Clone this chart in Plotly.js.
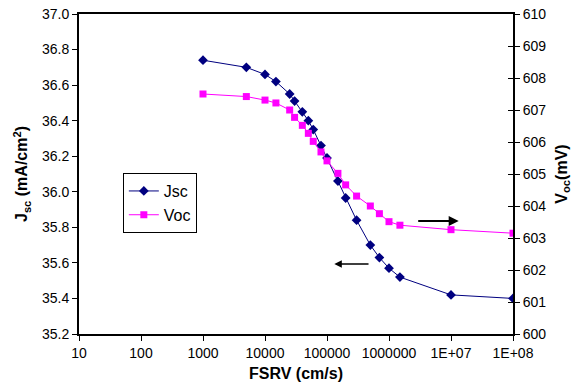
<!DOCTYPE html>
<html>
<head>
<meta charset="utf-8">
<script src="https://cdn.plot.ly/plotly-3.0.1.min.js"></script>
<style>html,body{margin:0;padding:0;background:#fff;}#chart{width:578px;height:390px;}</style>
</head>
<body>
<div id="chart"></div>
<script>
const fsrv = [1000, 5000, 10000, 15000, 25000, 30000, 40000, 50000, 60000, 80000,
              100000, 150000, 200000, 300000, 500000, 700000, 1000000, 1500000, 10000000, 100000000];
const jsc = [36.74, 36.70, 36.66, 36.62, 36.55, 36.51, 36.45, 36.40, 36.35, 36.26,
             36.19, 36.06, 35.965, 35.84, 35.70, 35.63, 35.57, 35.52, 35.42, 35.40];
const voc = [607.50, 607.42, 607.31, 607.22, 607.00, 606.77, 606.52, 606.27, 606.02, 605.69,
             605.41, 605.02, 604.66, 604.31, 604.00, 603.76, 603.51, 603.40, 603.26, 603.15];
const xTickVals = [10, 100, 1000, 10000, 100000, 1000000, 10000000, 100000000];
const xTickText = ['10', '100', '1000', '10000', '100000', '1000000', '1E+07', '1E+08'];

const font = 'Arial, "Liberation Sans", sans-serif';

const traces = [
  {x: fsrv, y: jsc, name: 'Jsc', type: 'scatter', mode: 'lines+markers', yaxis: 'y',
   line: {color: '#000080', width: 1}, marker: {symbol: 'diamond', size: 7.5, color: '#000080'}},
  {x: fsrv, y: voc, name: 'Voc', type: 'scatter', mode: 'lines+markers', yaxis: 'y2',
   line: {color: '#FF00FF', width: 1}, marker: {symbol: 'square', size: 7, color: '#FF00FF'}}
];

const layout = {
  width: 578, height: 390,
  margin: {l: 79, r: 65, t: 14, b: 56},
  paper_bgcolor: '#fff', plot_bgcolor: '#fff',
  font: {family: font, size: 14, color: '#000'},
  showlegend: true,
  legend: {x: 0.101, y: 0.503, xanchor: 'left', yanchor: 'top', bgcolor: '#fff',
           bordercolor: '#000', borderwidth: 1, font: {size: 16, family: font}},
  xaxis: {type: 'log', range: [1, 8], tickvals: xTickVals, ticktext: xTickText,
          showline: true, linecolor: '#000', linewidth: 2, mirror: true,
          ticks: 'outside', ticklen: 5, tickcolor: '#000', showgrid: false, zeroline: false,
          title: {text: '<b>FSRV (cm/s)</b>', font: {size: 16, family: font}, standoff: 8}},
  yaxis: {range: [35.2, 37.0], dtick: 0.2, tickformat: '.1f',
          showline: true, linecolor: '#000', linewidth: 2,
          ticks: 'outside', ticklen: 5, tickcolor: '#000', showgrid: false, zeroline: false,
          title: {text: '<b>J<sub>sc</sub> (mA/cm<sup>2</sup>)</b>', font: {size: 16, family: font}, standoff: 10}},
  yaxis2: {range: [600, 610], dtick: 1, overlaying: 'y', side: 'right',
           showline: true, linecolor: '#000', linewidth: 2,
           ticks: 'outside', ticklen: 5, tickcolor: '#000', showgrid: false, zeroline: false,
           title: {text: '<b>V<sub>oc</sub>(mV)</b>', font: {size: 16, family: font}, standoff: 10}},
  yaxis3: {range: [600, 610], dtick: 1, overlaying: 'y', side: 'right', showline: false,
           ticks: 'inside', ticklen: 5, tickcolor: '#000', showticklabels: false,
           showgrid: false, zeroline: false},
  annotations: [
    {x: 5.118, y: 35.594, ax: 5.694, ay: 35.594, xref: 'x', yref: 'y', axref: 'x', ayref: 'y',
     showarrow: true, arrowhead: 2, arrowsize: 1, arrowwidth: 1.5, arrowcolor: '#000', text: ''},
    {x: 7.124, y: 35.836, ax: 6.447, ay: 35.836, xref: 'x', yref: 'y', axref: 'x', ayref: 'y',
     showarrow: true, arrowhead: 2, arrowsize: 1, arrowwidth: 2, arrowcolor: '#000', text: ''}
  ]
};

// invisible helper trace so yaxis3 (crossing ticks on the right axis) renders
traces.push({x: [1000], y: [605], yaxis: 'y3', type: 'scatter', mode: 'markers',
             marker: {opacity: 0}, showlegend: false, hoverinfo: 'skip'});

Plotly.newPlot('chart', traces, layout, {displayModeBar: false, staticPlot: true});
</script>
</body>
</html>
